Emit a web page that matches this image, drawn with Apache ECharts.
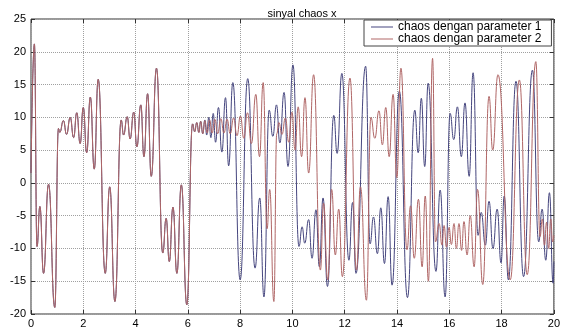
<!DOCTYPE html>
<html>
<head>
<meta charset="utf-8">
<script src="https://cdn.jsdelivr.net/npm/echarts@6/dist/echarts.min.js"></script>
<style>
  html, body { margin: 0; padding: 0; background: #fff; }
  #chart { width: 563px; height: 329px; }
</style>
</head>
<body>
<div id="chart"></div>
<script>
// both runs start from the same point and overlap until about t = 6.6
const sharedTime = [0.00, 0.13, 0.23, 0.34, 0.48, 0.67, 0.91, 1.05, 1.10, 1.24, 1.36, 1.50, 1.63, 1.75, 1.88, 2.00,
  2.13, 2.27, 2.42, 2.57, 2.84, 3.01, 3.21, 3.45, 3.54, 3.68, 3.79, 3.93, 4.05, 4.20, 4.32, 4.46, 4.60, 4.80,
  5.04, 5.17, 5.29, 5.43, 5.58, 5.75, 5.96, 6.18, 6.26, 6.34, 6.42, 6.49, 6.57];
const sharedValue = [1.5, 21.2, -9.7, -3.6, -13.8, -0.2, -19.0, 8.3, 7.7, 9.5, 7.4, 10.0, 6.9, 10.7, 6.0, 11.5,
  4.6, 13.1, 2.1, 15.8, -13.8, -0.6, -18.1, 9.6, 7.3, 10.1, 6.7, 10.8, 5.5, 11.9, 4.0, 13.6, 1.0, 17.5,
  -10.7, -5.4, -12.0, -3.7, -13.8, -0.3, -18.6, 9.0, 7.8, 9.2, 7.7, 9.4, 7.5];

// parameter 1 after the split
const param1Time = [6.65, 6.72, 6.80, 6.88, 6.97, 7.06, 7.17, 7.30, 7.44, 7.56, 7.72, 8.00, 8.29, 8.57, 8.75, 8.91,
  9.11, 9.25, 9.39, 9.52, 9.68, 9.83, 10.02, 10.25, 10.37, 10.47, 10.62, 10.75, 10.90, 11.03, 11.17, 11.34,
  11.58, 11.71, 11.89, 12.16, 12.30, 12.43, 12.80, 12.97, 13.10, 13.25, 13.38, 13.52, 13.66, 13.81, 14.09,
  14.40, 14.68, 14.81, 14.93, 15.06, 15.19, 15.49, 15.65, 15.84, 16.03, 16.17, 16.31, 16.46, 16.60, 16.76,
  16.91, 17.10, 17.22, 17.38, 17.52, 17.67, 17.83, 17.98, 18.10, 18.26, 18.55, 18.84, 19.18, 19.42, 19.55,
  19.69, 19.83, 19.97, 20.00];
const param1Value = [9.6, 7.3, 10.0, 6.9, 10.6, 6.2, 11.5, 4.7, 13.0, 2.6, 15.3, -14.8, 15.9, -13.0, -2.3, -17.4,
  11.1, 7.1, 11.9, 6.1, 13.8, 2.5, 18.0, -9.7, -6.7, -9.2, -5.6, -11.5, -4.1, -12.8, -2.3, -15.8,
  10.3, 4.5, 16.7, -11.8, -3.0, -13.8, 17.8, -9.3, -5.2, -10.8, -3.8, -12.3, -2.1, -15.6, 14.0,
  -17.5, 11.1, 4.6, 12.9, 2.5, 15.2, -13.5, -1.1, -17.4, 10.6, 6.6, 11.6, 4.0, 12.2, 1.0,
  16.8, -8.0, -4.5, -9.5, -2.8, -10.0, -4.0, -12.2, -2.0, -14.8, 15.5, -14.3, 17.2, -9.0, -4.0,
  -11.8, -1.5, -15.3, -12.0];

// parameter 2 after the split
const param2Time = [6.65, 6.74, 6.83, 6.93, 7.03, 7.14, 7.26, 7.38, 7.50, 7.62, 7.75, 7.88, 8.01, 8.14, 8.28, 8.43,
  8.60, 8.74, 8.88, 9.03, 9.13, 9.29, 9.40, 9.48, 9.60, 9.73, 9.86, 9.98, 10.10, 10.22, 10.35, 10.48, 10.62,
  10.81, 11.07, 11.19, 11.35, 11.50, 11.64, 11.77, 11.91, 12.20, 12.45, 12.60, 12.83, 13.00, 13.15, 13.31,
  13.44, 13.57, 13.70, 13.85, 13.99, 14.15, 14.38, 14.52, 14.66, 14.82, 14.96, 15.08, 15.20, 15.36, 15.47,
  15.61, 15.72, 15.80, 15.89, 15.99, 16.08, 16.18, 16.27, 16.37, 16.47, 16.56, 16.68, 16.80, 16.95, 17.08,
  17.28, 17.52, 17.66, 17.86, 18.33, 18.68, 18.98, 19.31, 19.47, 19.56, 19.64, 19.72, 19.80, 19.88, 19.95, 20.00];
const param2Value = [9.5, 7.6, 9.6, 7.6, 9.7, 7.5, 9.8, 7.6, 9.7, 7.5, 9.9, 7.2, 10.2, 6.8, 10.7, 6.0,
  13.5, 4.0, 15.3, -7.0, -1.0, -18.1, 7.5, 9.2, 7.4, 9.9, 6.2, 10.8, 5.0, 11.6, 4.0, 13.0, 1.5,
  16.5, -13.3, -3.1, -14.8, -1.0, -11.0, -4.0, -14.3, 16.0, -13.3, -0.6, -17.9, 10.0, 6.8, 11.0,
  5.8, 11.5, 4.0, 13.5, 0.8, 17.5, -10.2, -3.5, -11.5, -2.5, -12.8, -2.0, -15.0, 19.0, -9.0,
  -6.2, -9.5, -6.5, -9.8, -6.8, -9.4, -6.2, -10.0, -6.2, -10.3, -5.9, -11.0, -5.0, -12.8, -1.0,
  -15.5, 13.2, 5.0, 16.5, -14.8, 15.7, -14.0, 18.5, -8.2, -5.5, -9.5, -6.0, -10.0, -5.5, -9.0, -8.0];

const seriesNames = ["chaos dengan parameter 1", "chaos dengan parameter 2"];
const lineColors = ["#45457e", "#b06666"];

function pairs(ts, vs) {
  return ts.map((t, i) => [t, vs[i]]);
}
const run1 = pairs(sharedTime.concat(param1Time), sharedValue.concat(param1Value));
const run2 = pairs(sharedTime.concat(param2Time), sharedValue.concat(param2Value));

const font = "Liberation Sans, Arial, sans-serif";
const chart = echarts.init(document.getElementById("chart"));

const xBase = { type: "value", min: 0, max: 20, interval: 2 };
const yBase = { type: "value", min: -20, max: 25, interval: 5 };
const tick = { inside: true, length: 4, lineStyle: { color: "#333" } };
const grid = { show: true, lineStyle: { type: "dotted", color: "#a0a0a0" } };

chart.setOption({
  animation: false,
  backgroundColor: "#fff",
  title: {
    text: "sinyal chaos x",
    left: 297,
    textAlign: "center",
    top: 3,
    textStyle: { fontFamily: font, fontSize: 11, fontWeight: "normal", color: "#000" },
  },
  legend: {
    orient: "vertical",
    left: 364,
    top: 20,
    backgroundColor: "#fff",
    borderColor: "#444",
    borderWidth: 1,
    borderRadius: 0,
    padding: [1, 10, 1, 7],
    itemGap: 0,
    itemWidth: 22,
    itemHeight: 1,
    icon: "rect",
    textStyle: { fontFamily: font, fontSize: 12, color: "#000", lineHeight: 11 },
    data: seriesNames,
  },
  grid: {
    left: 31,
    right: 3,
    top: 19,
    bottom: 15,
    show: true,
    borderColor: "#333",
    borderWidth: 1,
    backgroundColor: "#fff",
  },
  xAxis: [
    Object.assign({}, xBase, {
      axisLine: { show: false, onZero: false },
      axisTick: tick,
      axisLabel: { fontFamily: font, fontSize: 11, color: "#000", margin: 4 },
      splitLine: grid,
    }),
    Object.assign({}, xBase, {
      position: "top",
      axisLine: { show: false, onZero: false },
      axisTick: tick,
      axisLabel: { show: false },
      splitLine: { show: false },
    }),
  ],
  yAxis: [
    Object.assign({}, yBase, {
      axisLine: { show: false, onZero: false },
      axisTick: tick,
      axisLabel: { fontFamily: font, fontSize: 11, color: "#000", margin: 5 },
      splitLine: grid,
    }),
    Object.assign({}, yBase, {
      position: "right",
      axisLine: { show: false, onZero: false },
      axisTick: tick,
      axisLabel: { show: false },
      splitLine: { show: false },
    }),
  ],
  series: [
    {
      name: seriesNames[0],
      type: "line",
      data: run1,
      symbol: "none",
      smooth: 0.5,
      smoothMonotone: "x",
      color: lineColors[0],
      lineStyle: { width: 1, color: lineColors[0] },
    },
    {
      name: seriesNames[1],
      type: "line",
      data: run2,
      symbol: "none",
      smooth: 0.5,
      smoothMonotone: "x",
      color: lineColors[1],
      lineStyle: { width: 1, color: lineColors[1] },
    },
  ],
});
</script>
</body>
</html>
